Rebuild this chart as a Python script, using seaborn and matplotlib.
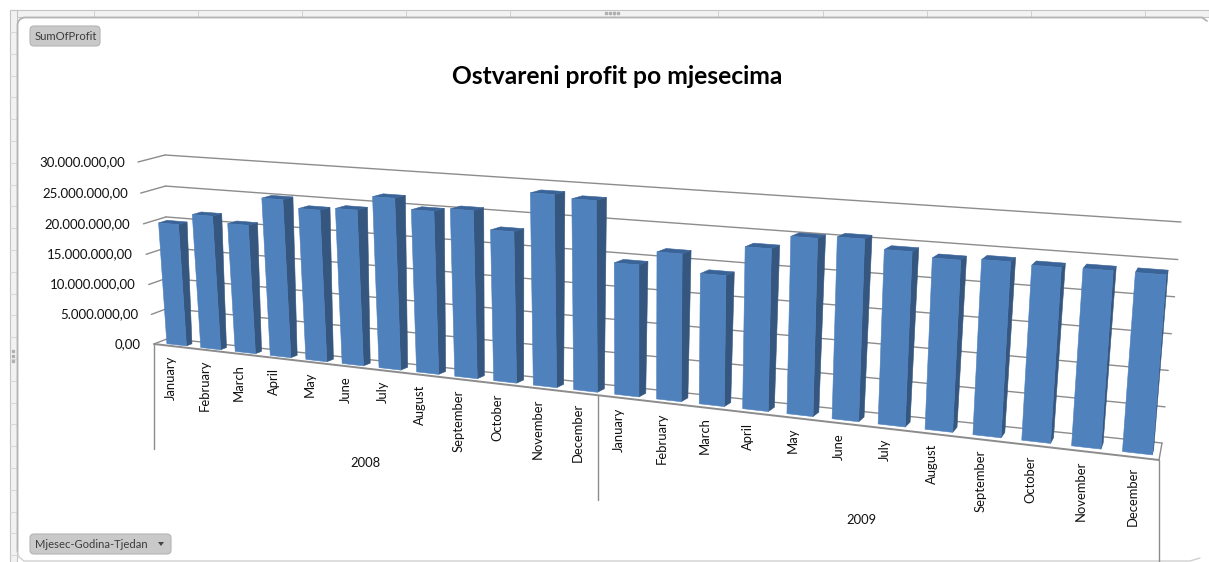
import numpy as np
import pandas as pd
import matplotlib
matplotlib.use("Agg")
import matplotlib.pyplot as plt
from matplotlib.patches import Polygon, FancyBboxPatch, Rectangle
from matplotlib.transforms import Affine2D, Transform
import seaborn as sns

months = ["January", "February", "March", "April", "May", "June", "July",
          "August", "September", "October", "November", "December"]
years = ["2008", "2009"]
profit_2008 = [20.0e6, 21.8e6, 20.8e6, 25.3e6, 24.1e6, 24.55e6,
               26.8e6, 25.25e6, 25.8e6, 23.1e6, 29.05e6, 28.6e6]
profit_2009 = [19.7e6, 21.8e6, 19.2e6, 23.55e6, 25.5e6, 25.9e6,
               24.65e6, 24.0e6, 24.3e6, 24.05e6, 24.15e6, 24.15e6]
y_ticks = [0, 5e6, 10e6, 15e6, 20e6, 25e6, 30e6]
y_tick_labels = ["0,00", "5.000.000,00", "10.000.000,00", "15.000.000,00",
                 "20.000.000,00", "25.000.000,00", "30.000.000,00"]
title = "Ostvareni profit po mjesecima"

FRONT = "#4F81BD"
SIDE = "#34567F"
TOP = "#3A6397"
GRID = "#8C8C8C"
W, H = 1209, 562

sns.set_theme(style="white")
plt.rcParams["font.family"] = ["Lato", "DejaVu Sans"]

df = pd.DataFrame({
    "period": [f"{m} {y}" for y in years for m in months],
    "profit": profit_2008 + profit_2009,
})

fig = plt.figure(figsize=(W / 100, H / 100), dpi=100, facecolor="white")
ax = fig.add_axes([0, 0, 1, 1])
px = Affine2D().scale(1 / W, -1 / H).translate(0, 1) + fig.transFigure


def homography(quad):
    A, b = [], []
    for (u, v), (X, Y) in zip([(0, 0), (1, 0), (0, 1), (1, 1)], quad):
        A.append([u, v, 1, 0, 0, 0, -u * X, -v * X]); b.append(X)
        A.append([0, 0, 0, u, v, 1, -u * Y, -v * Y]); b.append(Y)
    return np.append(np.linalg.solve(np.array(A, float), np.array(b, float)), 1).reshape(3, 3)


H_FRONT = homography([(154, 344), (1159, 460), (138, 162), (1176, 233)])
H_BACK = homography([(168, 338.5), (1162, 443), (165, 155), (1181, 222)])
N = len(df)
VMAX = y_ticks[-1]


def project(x, y, d=0.0):
    x, y = np.asarray(x, float), np.asarray(y, float)
    q = np.stack([(x + 0.5) / N, y / VMAX, np.ones_like(x)], axis=-1)
    def ap(M):
        r = q @ M.T
        return r[..., :2] / r[..., 2:]
    return (1 - d) * ap(H_FRONT) + d * ap(H_BACK)


class Persp(Transform):
    input_dims = output_dims = 2
    is_separable = False
    has_inverse = False

    def __init__(self, plane):
        super().__init__()
        self.plane = plane

    def transform_non_affine(self, values):
        return project(values[:, 0], values[:, 1], self.plane)


D0, D1 = 0.25, 0.62
SHIFT = 0.07

# chart frame and spreadsheet strip
fig.add_artist(Rectangle((10, 10), W - 10, 7, transform=px, fc="#F2F2F2", ec="#C4C4C4", lw=0.8, zorder=-3))
fig.add_artist(Rectangle((10, 10), 7, H, transform=px, fc="#F2F2F2", ec="#C4C4C4", lw=0.8, zorder=-3))
for gx in [94, 198, 302, 406, 510, 614, 718, 823, 927, 1031, 1145]:
    fig.add_artist(plt.Line2D([gx, gx], [11, 17], transform=px, color="#D0D0D0", lw=0.7, zorder=-2))
for gy in np.arange(32, H, 21.8):
    fig.add_artist(plt.Line2D([10, 17], [gy, gy], transform=px, color="#D8D8D8", lw=0.7, zorder=-2))
fig.add_artist(plt.Line2D([17.5, 17.5, 18.5, 20.5, 24, 1202, 1207],
                          [552, 24, 21, 19, 17.5, 17.5, 21],
                          transform=px, color="#B4B4B4", lw=1.3, zorder=-1))
fig.add_artist(plt.Line2D([17.5, 19, 24, 1190, 1200], [552, 557, 561, 561, 558],
                          transform=px, color="#D0D0D0", lw=1.0, zorder=-1))
fig.add_artist(plt.Line2D([12.5] * 3, [351, 356, 361], transform=px, ls="none", marker="s", ms=1.5,
                          color="#B0B0B0", zorder=-1))
fig.add_artist(plt.Line2D([606, 610, 614, 618], [12.5] * 4, transform=px, ls="none", marker="s", ms=1.5,
                          color="#B0B0B0", zorder=-1))

sns.barplot(data=df, x="period", y="profit", color=FRONT, saturation=1,
            width=0.58, ax=ax, order=list(df["period"]))
ax.set_xlim(-0.5, N - 0.5)
ax.set_ylim(0, VMAX)
ax.set_axis_off()

# wall, floor and tick lines
back, front = Persp(1.0) + px, Persp(0.0) + px
ends = [-0.5, N - 0.5]
for v in y_ticks:
    ax.plot(ends, [v, v], transform=back, color=GRID, lw=1.0, zorder=1, clip_on=False)
    a, b = project(-0.5, v, 0.0), project(-0.5, v, 1.0)
    ax.plot([a[0], b[0]], [a[1], b[1]], transform=px, color=GRID, lw=1.0, zorder=1, clip_on=False)
ax.plot(ends, [0, 0], transform=front, color=GRID, lw=1.4, zorder=1, clip_on=False)
a, b = project(N - 0.5, 0, 0.0), project(N - 0.5, 0, 1.0)
ax.plot([a[0], b[0]], [a[1], b[1]], transform=px, color=GRID, lw=1.0, zorder=1, clip_on=False)

# 3D bar faces
for bar in list(ax.patches):
    bar.set_x(bar.get_x() + SHIFT)
    x0, x1, h = bar.get_x(), bar.get_x() + bar.get_width(), bar.get_height()
    bar.set_transform(Persp(D0) + px)
    bar.set_clip_on(False)
    bar.set_edgecolor(FRONT)
    bar.set_linewidth(0.4)
    bar.set_zorder(4)
    side = [project(x1, 0, D0), project(x1, 0, D1), project(x1, h, D1), project(x1, h, D0)]
    top = [project(x0, h, D0), project(x1, h, D0), project(x1, h, D1), project(x0, h, D1)]
    ax.add_patch(Polygon(side, closed=True, transform=px, fc=SIDE, ec=SIDE, lw=0.4, zorder=3, clip_on=False))
    ax.add_patch(Polygon(top, closed=True, transform=px, fc=TOP, ec=TOP, lw=0.4, zorder=3, clip_on=False))

# y labels
for v, lab in zip(y_ticks, y_tick_labels):
    p = project(-0.5, v, 0.0)
    ax.text(p[0] - 13, p[1], lab, transform=px, ha="right", va="center", fontsize=9.5,
            color="#111111", clip_on=False)

# category labels
for i, lab in enumerate(df["period"]):
    p = project(i, 0, 0.0)
    ax.text(p[0], p[1] + 10, lab.split()[0], transform=px, rotation=90, ha="center", va="top",
            fontsize=9.4, color="#111111", clip_on=False)

# year separators and labels
for pos, length in [(-0.5, 105), (N / 2 - 0.5, 105), (N - 0.5, 105)]:
    p = project(pos, 0, 0.0)
    ax.plot([p[0], p[0]], [p[1], p[1] + length], transform=px, color=GRID, lw=1.0, zorder=1, clip_on=False)
ax.text(365, 463, years[0], transform=px, ha="center", va="center", fontsize=9.4, color="#111111")
ax.text(861, 520, years[1], transform=px, ha="center", va="center", fontsize=9.4, color="#111111")

ax.text(617, 76, title, transform=px, ha="center", va="center", fontsize=17.7,
        fontweight="bold", color="black")


def button(x0, y0, x1, y1, text):
    fig.add_artist(FancyBboxPatch((x0, y0), x1 - x0, y1 - y0, boxstyle="round,pad=0,rounding_size=4",
                                  transform=px, fc="#C9C9C9", ec="#B5B5B5", lw=0.8))
    fig.text(x0 + 5, (y0 + y1) / 2, text, transform=px, ha="left", va="center",
             fontsize=8.1, color="#3C3C3C")


button(30, 26, 100, 46, "SumOfProfit")
button(30, 534, 171, 554, "Mjesec-Godina-Tjedan")
fig.add_artist(Polygon([(158, 542), (164, 542), (161, 546)], closed=True, transform=px, fc="#444444", ec="none"))

fig.savefig("out.png", dpi=100, facecolor="white")
